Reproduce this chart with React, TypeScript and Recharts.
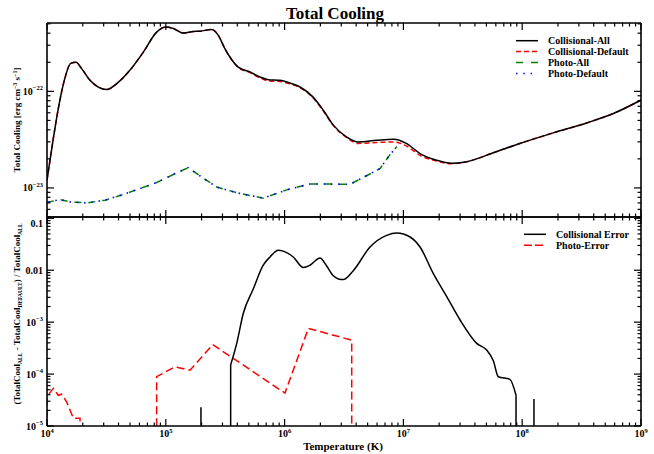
import React from "react";
import { LineChart, Line, XAxis, YAxis } from "recharts";

const FONT = "'Liberation Serif', 'DejaVu Serif', serif";

// x axis: log10 of temperature (K)
const xTickLabels = ["10|4", "10|5", "10|6", "10|7", "10|8", "10|9"];
const coolTickLabels = ["10|−23", "10|−22"];
const errTickLabels = ["10|−5", "10|−4", "10|−3", "0.01", "0.1"];

// top panel, log10 T vs log10 cooling rate
const collAllLogT = [
  4.0, 4.053, 4.095, 4.143, 4.2, 4.244, 4.292, 4.362, 4.432, 4.503, 4.587, 4.699, 4.811, 4.923, 5.0,
  5.063, 5.147, 5.232, 5.288, 5.386, 5.442, 5.498, 5.554, 5.61, 5.709, 5.793, 5.863, 5.96, 6.045,
  6.13, 6.24, 6.326, 6.41, 6.523, 6.62, 6.775, 6.915, 7.028, 7.14, 7.28, 7.407, 7.533, 7.757, 7.98,
  8.262, 8.543, 8.767, 9.0,
];
const collAllLogC = [
  -22.92, -22.49, -22.18, -21.9, -21.71, -21.7, -21.765, -21.886, -21.956, -21.982, -21.92, -21.78,
  -21.594, -21.387, -21.335, -21.35, -21.397, -21.38, -21.377, -21.36, -21.42, -21.56, -21.67,
  -21.75, -21.8, -21.852, -21.879, -21.886, -21.914, -21.955, -22.06, -22.196, -22.35, -22.473,
  -22.524, -22.507, -22.496, -22.541, -22.644, -22.714, -22.745, -22.728, -22.636, -22.54, -22.43,
  -22.327, -22.23, -22.09,
];
const collDefLogC = [
  -22.92, -22.49, -22.18, -21.9, -21.71, -21.7, -21.765, -21.886, -21.956, -21.982, -21.92, -21.78,
  -21.594, -21.387, -21.335, -21.35, -21.397, -21.38, -21.377, -21.36, -21.42, -21.56, -21.671,
  -21.753, -21.806, -21.861, -21.891, -21.898, -21.924, -21.963, -22.068, -22.203, -22.354, -22.48,
  -22.539, -22.53, -22.524, -22.568, -22.663, -22.722, -22.749, -22.729, -22.636, -22.54, -22.43,
  -22.327, -22.23, -22.09,
];
const photoLogT = [
  4.0, 4.109, 4.194, 4.334, 4.488, 4.642, 4.783, 4.923, 5.063, 5.189, 5.316, 5.428, 5.597, 5.82,
  6.018, 6.214, 6.551, 6.649, 6.803, 6.887, 6.944,
];
const photoAllLogC = [
  -23.15, -23.12, -23.145, -23.155, -23.127, -23.068, -23.006, -22.944, -22.861, -22.79, -22.9,
  -22.99, -23.05, -23.106, -23.02, -22.959, -22.962, -22.9, -22.8, -22.655, -22.574,
];
const photoDefLogC = [
  -23.15, -23.12, -23.145, -23.155, -23.127, -23.068, -23.006, -22.944, -22.861, -22.79, -22.9,
  -22.99, -23.05, -23.106, -23.02, -22.959, -22.962, -22.9, -22.8, -22.655, -22.574,
];

// bottom panel, relative error (0 = no difference)
const collErrLogT = [
  4.0, 5.296, 5.296, 5.296, 5.546, 5.546, 5.597, 5.652, 5.737, 5.82, 5.877, 5.947, 6.073, 6.157,
  6.214, 6.298, 6.35, 6.41, 6.452, 6.494, 6.578, 6.719, 6.859, 6.944, 7.056, 7.14, 7.252, 7.365,
  7.477, 7.617, 7.701, 7.757, 7.799, 7.897, 7.948, 7.948, 8.099, 8.099, 8.099, 9.0,
];
const collErr = [
  0, 0, 2.3e-5, 0, 0, 1.5e-4, 3.9e-4, 1.47e-3, 4.4e-3, 0.0125, 0.018, 0.0243, 0.018, 0.0113,
  0.0125, 0.0172, 0.0125, 0.0078, 0.0068, 0.0066, 0.0098, 0.028, 0.047, 0.052, 0.0437, 0.028,
  0.0086, 0.0031, 0.0011, 3.9e-4, 2.9e-4, 1.8e-4, 8.9e-5, 7.9e-5, 3.9e-5, 0, 0, 3.3e-5, 0, 0,
];
const photoErrLogT = [
  4.0, 4.0, 4.053, 4.095, 4.124, 4.166, 4.222, 4.278, 4.278, 4.923, 4.923, 5.077, 5.204, 5.395,
  6.003, 6.2, 6.565, 6.565, 9.0,
];
const photoErr = [
  0, 3.7e-5, 5.3e-5, 3.9e-5, 4.1e-5, 2.9e-5, 1.41e-5, 1.41e-5, 0, 0, 8.9e-5, 1.38e-4, 1.19e-4,
  3.7e-4, 4.3e-5, 7.6e-4, 4.5e-4, 0, 0,
];

const FLOOR = 1e-12;
const coolRows = (lt: number[], lc: number[]) => lt.map((t, i) => ({ x: 10 ** t, y: 10 ** lc[i] }));
const errRows = (lt: number[], v: number[]) =>
  lt.map((t, i) => ({ x: 10 ** t, y: v[i] > 0 ? v[i] : FLOOR }));

// the smooth part of the collisional error sits between its two vertical edges
const collErrAll = errRows(collErrLogT, collErr);
const collErrSmooth = collErrAll.slice(5, 35);
const collErrLeft = collErrAll.slice(0, 6);
const collErrRight = collErrAll.slice(34);

const X_DOMAIN = [1e4, 1e9];
const COOL_DOMAIN = [5e-24, 5.1e-22];
const ERR_DOMAIN = [1e-5, 0.106];

function logTicks(lo: number, hi: number) {
  const out: number[] = [];
  for (let e = Math.floor(Math.log10(lo)); e <= Math.ceil(Math.log10(hi)); e++) {
    for (let k = 1; k <= 9; k++) {
      const v = k * 10 ** e;
      if (v >= lo * 0.9999 && v <= hi * 1.0001) out.push(v);
    }
  }
  return out;
}

const isMajor = (v: number) => Math.abs(Math.log10(v) - Math.round(Math.log10(v))) < 1e-6;

function TickText({ label, x, y, anchor }: { label: string; x: number; y: number; anchor: string }) {
  const [base, sup] = label.split("|");
  return (
    <text x={x} y={y} textAnchor={anchor} fontFamily={FONT} fontWeight="bold" fontSize={10} fill="#000">
      {base}
      {sup && (
        <tspan dy={-4.5} fontSize={6.5}>
          {sup}
        </tspan>
      )}
    </text>
  );
}

// minLabelY is in the chart's own svg coordinates
function makeTick(side: string, labels?: string[], firstExp = 0, minLabelY = 0) {
  return (props: any) => {
    const { x, y, payload } = props;
    const v = payload.value;
    const major = isMajor(v);
    const len = major ? 7 : 3.5;
    let line;
    if (side === "bottom") line = <line x1={x} x2={x} y1={y} y2={y - len} />;
    else if (side === "top") line = <line x1={x} x2={x} y1={y} y2={y + len} />;
    else if (side === "left") line = <line x1={x} x2={x + len} y1={y} y2={y} />;
    else line = <line x1={x} x2={x - len} y1={y} y2={y} />;
    let text = null;
    if (labels && major) {
      const idx = Math.round(Math.log10(v)) - firstExp;
      const label = labels[idx];
      if (label) {
        if (side === "bottom") text = <TickText label={label} x={x} y={y + 11} anchor="middle" />;
        if (side === "left")
          text = <TickText label={label} x={x - 4} y={Math.max(y + 3.5, minLabelY)} anchor="end" />;
      }
    }
    return (
      <g>
        <g stroke="#000" strokeWidth={1.2}>{line}</g>
        {text}
      </g>
    );
  };
}

const xTicks = logTicks(X_DOMAIN[0], X_DOMAIN[1]);
const coolTicks = logTicks(COOL_DOMAIN[0], COOL_DOMAIN[1]);
const errTicks = logTicks(ERR_DOMAIN[0], ERR_DOMAIN[1]);

const axisLine = { stroke: "#000", strokeWidth: 1.6 };

// axes are 1px thick (recharts skips zero-size axes); margins below account for it
function Axes({ yDomain, yTicks, yLabels, yFirstExp, showXLabels, minLabelY }: any) {
  return [
    <XAxis
      key="xb"
      xAxisId={0}
      dataKey="x"
      type="number"
      scale="log"
      domain={X_DOMAIN}
      allowDataOverflow
      ticks={xTicks}
      interval={0}
      height={1}
      tickSize={0}
      tickMargin={0}
      tickLine={false}
      axisLine={axisLine}
      tick={makeTick("bottom", showXLabels ? xTickLabels : undefined, 4)}
    />,
    <XAxis
      key="xt"
      xAxisId="top"
      orientation="top"
      dataKey="x"
      type="number"
      scale="log"
      domain={X_DOMAIN}
      allowDataOverflow
      ticks={xTicks}
      interval={0}
      height={1}
      tickSize={0}
      tickMargin={0}
      tickLine={false}
      axisLine={axisLine}
      tick={makeTick("top")}
    />,
    <YAxis
      key="yl"
      yAxisId={0}
      type="number"
      scale="log"
      domain={yDomain}
      allowDataOverflow
      ticks={yTicks}
      interval={0}
      width={1}
      tickSize={0}
      tickMargin={0}
      tickLine={false}
      axisLine={axisLine}
      tick={makeTick("left", yLabels, yFirstExp, minLabelY)}
    />,
    <YAxis
      key="yr"
      yAxisId="right"
      orientation="right"
      type="number"
      scale="log"
      domain={yDomain}
      allowDataOverflow
      ticks={yTicks}
      interval={0}
      width={1}
      tickSize={0}
      tickMargin={0}
      tickLine={false}
      axisLine={axisLine}
      tick={makeTick("right")}
    />,
  ];
}

function Legend({ x, y, items }: { x: number; y: number; items: { name: string; color: string; dash?: string }[] }) {
  return (
    <g>
      {items.map((it, i) => (
        <g key={it.name}>
          <line
            x1={x}
            x2={x + 22}
            y1={y + i * 10.9}
            y2={y + i * 10.9}
            stroke={it.color}
            strokeWidth={1.5}
            strokeDasharray={it.dash}
          />
          <text
            x={x + 32}
            y={y + i * 10.9 + 3.5}
            fontFamily={FONT}
            fontWeight="bold"
            fontSize={10}
            fill="#000"
          >
            {it.name}
          </text>
        </g>
      ))}
    </g>
  );
}

export default function App() {
  return (
    <div style={{ position: "absolute", left: 0, top: 0, width: 654, height: 454, background: "#fff" }}>
      <div style={{ position: "absolute", left: 0, top: 0 }}>
        <LineChart width={654} height={227} margin={{ top: 22, right: 12, bottom: 9, left: 46 }}>
          {Axes({ yDomain: COOL_DOMAIN, yTicks: coolTicks, yLabels: coolTickLabels, yFirstExp: -23, showXLabels: false })}
          <Line data={coolRows(photoLogT, photoAllLogC)} dataKey="y" type="linear" stroke="#008000" strokeWidth={1.5} strokeDasharray="7 7" dot={false} activeDot={false} isAnimationActive={false} />
          <Line data={coolRows(photoLogT, photoDefLogC)} dataKey="y" type="linear" stroke="#0000ff" strokeWidth={1.6} strokeDasharray="1.5 5.8" strokeDashoffset={-8.5} dot={false} activeDot={false} isAnimationActive={false} />
          <Line data={coolRows(collAllLogT, collDefLogC)} dataKey="y" type="monotone" stroke="#ff0000" strokeWidth={1.5} strokeDasharray="5 3" dot={false} activeDot={false} isAnimationActive={false} />
          <Line data={coolRows(collAllLogT, collAllLogC)} dataKey="y" type="monotone" stroke="#000" strokeWidth={1.5} dot={false} activeDot={false} isAnimationActive={false} />
        </LineChart>
      </div>
      <div style={{ position: "absolute", left: 0, top: 207 }}>
        <LineChart width={654} height={247} margin={{ top: 9, right: 12, bottom: 27, left: 46 }}>
          {Axes({ yDomain: ERR_DOMAIN, yTicks: errTicks, yLabels: errTickLabels, yFirstExp: -5, showXLabels: true, minLabelY: 20 })}
          <Line data={errRows(photoErrLogT, photoErr)} dataKey="y" type="linear" stroke="#ff0000" strokeWidth={1.5} strokeDasharray="8 4" dot={false} activeDot={false} isAnimationActive={false} />
          <Line data={collErrLeft} dataKey="y" type="linear" stroke="#000" strokeWidth={1.5} dot={false} activeDot={false} isAnimationActive={false} />
          <Line data={collErrSmooth} dataKey="y" type="monotone" stroke="#000" strokeWidth={1.5} dot={false} activeDot={false} isAnimationActive={false} />
          <Line data={collErrRight} dataKey="y" type="linear" stroke="#000" strokeWidth={1.5} dot={false} activeDot={false} isAnimationActive={false} />
        </LineChart>
      </div>
      <svg width={654} height={454} style={{ position: "absolute", left: 0, top: 0, pointerEvents: "none" }}>
        <text x={335} y={19} textAnchor="middle" fontFamily={FONT} fontWeight="bold" fontSize={17} fill="#000">
          Total Cooling
        </text>
        <text
          x={0}
          y={0}
          transform="translate(20,120) rotate(-90)"
          textAnchor="middle"
          fontFamily={FONT}
          fontWeight="bold"
          fontSize={9}
          fill="#000"
        >
          Total Cooling [erg cm<tspan dy={-3.5} fontSize={6}>−3</tspan>
          <tspan dy={3.5}> s</tspan>
          <tspan dy={-3.5} fontSize={6}>−1</tspan>
          <tspan dy={3.5}>]</tspan>
        </text>
        <text
          x={0}
          y={0}
          transform="translate(20,314) rotate(-90)"
          textAnchor="middle"
          fontFamily={FONT}
          fontWeight="bold"
          fontSize={9}
          fill="#000"
        >
          (TotalCool<tspan dy={2} fontSize={5.5}>ALL</tspan>
          <tspan dy={-2}> - TotalCool</tspan>
          <tspan dy={2} fontSize={5.5}>DEFAULT</tspan>
          <tspan dy={-2}>) / TotalCool</tspan>
          <tspan dy={2} fontSize={5.5}>ALL</tspan>
        </text>
        <text x={343} y={450} textAnchor="middle" fontFamily={FONT} fontWeight="bold" fontSize={11} fill="#000">
          Temperature (K)
        </text>
        <Legend
          x={516}
          y={40.7}
          items={[
            { name: "Collisional-All", color: "#000" },
            { name: "Collisional-Default", color: "#ff0000", dash: "5 3" },
            { name: "Photo-All", color: "#008000", dash: "7 8" },
            { name: "Photo-Default", color: "#0000ff", dash: "1.5 5.8" },
          ]}
        />
        <Legend
          x={524}
          y={234.3}
          items={[
            { name: "Collisional Error", color: "#000" },
            { name: "Photo-Error", color: "#ff0000", dash: "8 3" },
          ]}
        />
      </svg>
    </div>
  );
}
